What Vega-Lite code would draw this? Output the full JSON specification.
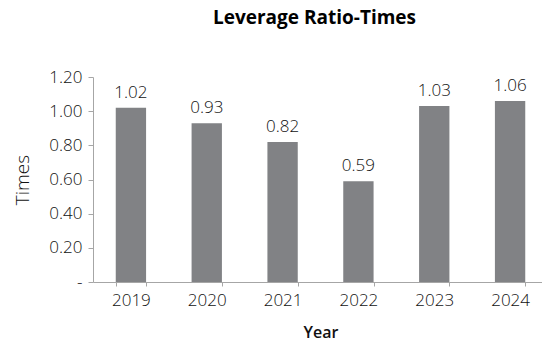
{
  "$schema": "https://vega.github.io/schema/vega-lite/v6.json",
  "width": 455,
  "height": 205,
  "autosize": {"type": "none"},
  "padding": {"left": 93, "top": 77, "right": 0, "bottom": 64},
  "background": "white",
  "title": {
    "text": "Leverage Ratio-Times",
    "font": "Open Sans",
    "fontSize": 19,
    "fontWeight": "bold",
    "color": "#000000",
    "anchor": "middle",
    "dx": -6,
    "offset": 40
  },
  "data": {
    "values": [
      {"Year": "2019", "Times": 1.02},
      {"Year": "2020", "Times": 0.93},
      {"Year": "2021", "Times": 0.82},
      {"Year": "2022", "Times": 0.59},
      {"Year": "2023", "Times": 1.03},
      {"Year": "2024", "Times": 1.06}
    ]
  },
  "config": {
    "view": {"stroke": null},
    "axis": {
      "labelFont": "Open Sans",
      "titleFont": "Open Sans",
      "labelFontSize": 17,
      "labelFontWeight": 300,
      "labelColor": "#111111",
      "domainColor": "#a6a6a6",
      "tickColor": "#a6a6a6",
      "grid": false
    }
  },
  "encoding": {
    "x": {
      "field": "Year",
      "type": "nominal",
      "scale": {"paddingInner": 0.6, "paddingOuter": 0.3},
      "axis": {
        "labelAngle": 0,
        "tickBand": "extent",
        "tickSize": 4,
        "labelPadding": 6,
        "title": "Year",
        "titleFontSize": 16,
        "titleFontWeight": 600,
        "titleColor": "#111111",
        "titlePadding": 16
      }
    },
    "y": {
      "field": "Times",
      "type": "quantitative",
      "scale": {"domain": [0, 1.2]},
      "axis": {
        "values": [0, 0.2, 0.4, 0.6, 0.8, 1.0, 1.2],
        "labelExpr": "datum.value == 0 ? '-' : format(datum.value, '.2f')",
        "tickSize": 5,
        "labelPadding": 6,
        "title": "Times",
        "titleFontSize": 19,
        "titleFontWeight": 300,
        "titleColor": "#111111",
        "titlePadding": 16
      }
    }
  },
  "layer": [
    {"mark": {"type": "bar", "color": "#818285"}},
    {
      "mark": {"type": "text", "baseline": "alphabetic", "dy": -10, "font": "Open Sans", "fontSize": 17, "fontWeight": 300, "color": "#111111"},
      "encoding": {"text": {"field": "Times", "type": "quantitative", "format": ".2f"}}
    }
  ]
}
